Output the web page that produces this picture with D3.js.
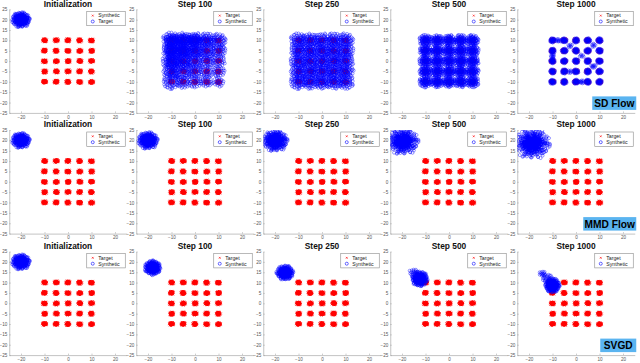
<!DOCTYPE html>
<html>
<head>
<meta charset="utf-8">
<script src="https://cdn.jsdelivr.net/npm/d3@7"></script>
<style>
  body { margin: 0; background: #fff; }
  svg { display: block; }
</style>
</head>
<body>
<div id="chart"></div>
<script>
// ---- data ----
const methods = ["SD Flow", "MMD Flow", "SVGD"];
const steps = ["Initialization", "Step 100", "Step 250", "Step 500", "Step 1000"];
const xTicks = [-20, -10, 0, 10, 20];
const yTicks = [25, 20, 15, 10, 5, 0, -5, -10, -15, -20, -25];
const modeCoords = [-10, -5, 0, 5, 10];   // target is a 5x5 grid of gaussians
const targetSpread = 1.0;

// legend labels per row (first entry = red marker, second = blue marker)
const legendLabels = [
  [["Synthetic", "Target"], ["Target", "Synthetic"], ["Target", "Synthetic"], ["Target", "Synthetic"], ["Target", "Synthetic"]],
  [["Target", "Synthetic"], ["Target", "Synthetic"], ["Target", "Synthetic"], ["Target", "Synthetic"], ["Target", "Synthetic"]],
  [["Target", "Synthetic"], ["Target", "Synthetic"], ["Target", "Synthetic"], ["Target", "Synthetic"], ["Target", "Synthetic"]]
];

// fixed scatter template (unit disc) used to draw each cloud of points
const JITTER = [
  [0.12,-0.05],[-0.34,0.21],[0.45,0.38],[-0.08,-0.52],[0.71,-0.14],[-0.66,-0.29],[0.27,0.77],[-0.41,0.63],
  [0.05,0.33],[0.58,-0.61],[-0.87,0.12],[0.19,-0.88],[-0.23,-0.17],[0.92,0.24],[-0.55,-0.74],[0.36,-0.31],
  [-0.12,0.91],[0.78,0.55],[-0.94,-0.08],[0.02,-0.26],[-0.31,0.44],[0.49,0.08],[-0.72,0.51],[0.63,-0.83],
  [-0.18,-0.95],[0.84,-0.42],[-0.47,-0.06],[0.31,0.56],[-0.05,0.12],[0.15,-0.67],[-0.62,0.86],[0.97,-0.03],
  [-0.81,-0.49],[0.42,-0.12],[-0.26,-0.38],[0.08,0.64],[0.67,0.21],[-0.39,0.02],[0.24,-0.45],[-0.58,0.33],
  [0.53,0.82],[-0.15,-0.72],[0.86,0.47],[-0.73,-0.62],[0.33,0.17],[-0.02,-0.41],[0.59,-0.28],[-0.44,0.77],
  [0.11,0.42],[-0.88,0.35],[0.74,-0.66],[-0.29,-0.58],[0.38,0.94],[-0.64,-0.21],[0.21,0.03],[-0.09,0.55]
];

// synthetic point clouds per panel: [cx, cy, rx, ry, amount (multiples of the template)]
const initCloud = [[-20, 20, 3.6, 3.5, 5]];
const gridClouds = (r, amount) => modeCoords.flatMap(cy => modeCoords.map(cx => [cx, cy, r, r, amount]));

const sdClouds = [
  initCloud,
  [[-10, 10, 3.6, 3.6, 2.2], [-5, 10, 3.6, 3.6, 2.2], [0, 10, 3.4, 3.4, 2], [5, 10, 3.2, 3.2, 1.3], [10, 10, 3, 3, 1],
   [-10, 5, 3.6, 3.6, 2.2], [-5, 5, 3.6, 3.6, 2], [0, 5, 3.3, 3.3, 1.5], [5, 5, 3, 3, 1], [10, 5, 2.8, 2.8, 0.8],
   [-10, 0, 3.6, 3.6, 2], [-5, 0, 3.4, 3.4, 1.5], [0, 0, 3, 3, 1], [5, 0, 2.8, 2.8, 0.7], [10, 0, 2.6, 2.6, 0.6],
   [-10, -5, 3.4, 3.4, 1.4], [-5, -5, 3.2, 3.2, 1], [0, -5, 2.8, 2.8, 0.8], [5, -5, 2.6, 2.6, 0.6], [10, -5, 2.4, 2.4, 0.5],
   [-10, -10, 3.2, 3.2, 1], [-5, -10, 2.8, 2.8, 0.7], [0, -10, 2.6, 2.6, 0.6], [5, -10, 2.4, 2.4, 0.5], [10, -10, 2.2, 2.2, 0.4]],
  gridClouds(3.2, 1.2),
  gridClouds(2.5, 1.4),
  gridClouds(1.0, 0.55).concat([[-7.5, 10, 1.2, 0.8, 0.2], [2.5, -10, 1.2, 0.8, 0.2], [-10, 2.5, 0.8, 1.2, 0.2],
                                [7.5, -2.5, 1.2, 0.8, 0.2], [-2.5, 7.5, 1, 1, 0.15], [7.5, 7.5, 1, 1, 0.15],
                                [-2.5, -5, 1, 1, 0.15], [2.5, 2.5, 1, 1, 0.12]])
];

const mmdClouds = [
  initCloud,
  [[-20, 20, 4, 3.9, 6]],
  [[-19.8, 19.8, 5, 4.8, 8]],
  [[-19.5, 19.5, 6.3, 6, 11]],
  [[-18.5, 18.5, 7.2, 7, 12]]
];

const svgdClouds = [
  initCloud,
  [[-18, 17.2, 3.2, 3.3, 5]],
  [[-15.7, 14.8, 3.4, 3.3, 5]],
  [[-12.4, 11.8, 3.2, 3.4, 5], [-15, 15, 1.8, 1.4, 0.3]],
  [[-10, 8.6, 2.9, 3.3, 5], [-12.2, 11.8, 2, 2, 0.5], [-14.2, 14.2, 1.4, 1.2, 0.25]]
];

const allClouds = [sdClouds, mmdClouds, svgdClouds];

// ---- layout ----
const width = 640, height = 363;
const colLeft = 9.25, colStep = 127, plotW = 117.5;
const rowTops = [9.3, 130.0, 251.5], plotH = 103.6;
const badgeWidths = [44, 53, 36];
const layerScale = [1, 0.7, 0.86, 0.5, 0.94, 0.6, 0.35, 0.78, 0.22, 0.45, 0.1, 0.66];

const svg = d3.select("#chart")
  .append("svg")
  .attr("width", width)
  .attr("height", height)
  .style("font-family", "'Liberation Sans', Arial, Helvetica, sans-serif");

function cloudPoints(cloud) {
  const [cx, cy, rx, ry, amount] = cloud;
  const n = Math.round(amount * JITTER.length);
  const pts = [];
  for (let i = 0; i < n; i++) {
    const k = Math.floor(i / JITTER.length);
    const [u, v] = JITTER[i % JITTER.length];
    const s = layerScale[k % layerScale.length] * (1 + (i % 7) * 0.025);
    const a = k * 2.1 + cx * 0.37 + cy * 0.53;
    const ca = Math.cos(a), sa = Math.sin(a);
    const ru = u * ca - v * sa, rv = u * sa + v * ca;
    pts.push([cx + ru * rx * s, cy + rv * ry * s]);
  }
  return pts;
}

const targetPoints = [];
modeCoords.forEach((cy, i) => modeCoords.forEach((cx, j) => {
  const a = (i * 5 + j) * 0.9;
  const ca = Math.cos(a), sa = Math.sin(a);
  JITTER.forEach(([u, v], m) => {
    const s = m % 3 === 2 ? 0.5 : 1;
    targetPoints.push([cx + (u * ca - v * sa) * targetSpread * s, cy + (u * sa + v * ca) * targetSpread * s]);
  });
}));

const crossPath = "M-1,-1L1,1M-1,1L1,-1";

allClouds.forEach((rowClouds, r) => {
  rowClouds.forEach((clouds, c) => {
    const x0 = colLeft + c * colStep, y0 = rowTops[r];
    const x = d3.scaleLinear().domain([-25, 25]).range([x0, x0 + plotW]);
    const y = d3.scaleLinear().domain([-25, 25]).range([y0 + plotH, y0]);
    const g = svg.append("g");
    const clipId = `clip-${r}-${c}`;

    g.append("clipPath").attr("id", clipId)
      .append("rect")
      .attr("x", x0).attr("y", y0).attr("width", plotW).attr("height", plotH);

    // axes
    g.append("g")
      .attr("transform", `translate(${x0},0)`)
      .call(d3.axisLeft(y).tickValues(yTicks).tickSizeInner(-1.5).tickSizeOuter(0).tickPadding(2))
      .call(ax => {
        ax.select(".domain").attr("stroke", "#9a9a9a").attr("stroke-width", 0.6);
        ax.selectAll(".tick line").attr("stroke", "#9a9a9a").attr("stroke-width", 0.5);
        ax.selectAll("text").attr("font-size", 4.6).attr("fill", "#555");
      });

    g.append("g")
      .attr("transform", `translate(0,${y0 + plotH})`)
      .call(d3.axisBottom(x).tickValues(xTicks).tickSizeInner(-1.5).tickSizeOuter(0).tickPadding(2.5))
      .call(ax => {
        ax.select(".domain").attr("stroke", "#9a9a9a").attr("stroke-width", 0.6);
        ax.selectAll(".tick line").attr("stroke", "#9a9a9a").attr("stroke-width", 0.5);
        ax.selectAll("text").attr("font-size", 4.6).attr("fill", "#555");
      });

    const plot = g.append("g").attr("clip-path", `url(#${clipId})`);

    plot.append("g")
      .selectAll("path")
      .data(targetPoints)
      .join("path")
      .attr("d", crossPath)
      .attr("transform", d => `translate(${x(d[0])},${y(d[1])})`)
      .attr("stroke", "#ff0000")
      .attr("stroke-width", 0.75)
      .attr("fill", "none");

    const synth = clouds.flatMap(cloudPoints);
    plot.append("g")
      .selectAll("circle")
      .data(synth)
      .join("circle")
      .attr("cx", d => x(d[0]))
      .attr("cy", d => y(d[1]))
      .attr("r", 1.5)
      .attr("fill", "none")
      .attr("stroke", "#0000ff")
      .attr("stroke-width", 0.55)
      .attr("stroke-opacity", 0.75);

    // title
    g.append("text")
      .attr("x", x0 + plotW / 2)
      .attr("y", y0 - 2.6)
      .attr("text-anchor", "middle")
      .attr("font-size", 8.4)
      .attr("font-weight", "bold")
      .attr("fill", "#111")
      .text(steps[c]);

    // legend
    const lw = 38.5, lh = 14.4;
    const lx = x0 + plotW - lw - 1.5, ly = y0 + 2;
    const leg = g.append("g");
    leg.append("rect")
      .attr("x", lx).attr("y", ly).attr("width", lw).attr("height", lh)
      .attr("fill", "#fff").attr("stroke", "#8a8a8a").attr("stroke-width", 0.6);
    const labels = legendLabels[r][c];
    leg.append("path")
      .attr("d", crossPath)
      .attr("transform", `translate(${lx + 6},${ly + 4.3}) scale(0.9)`)
      .attr("stroke", "#ff0000").attr("stroke-width", 0.7).attr("fill", "none");
    leg.append("circle")
      .attr("cx", lx + 6).attr("cy", ly + 10.2).attr("r", 1.5)
      .attr("fill", "none").attr("stroke", "#0000ff").attr("stroke-width", 0.6);
    labels.forEach((t, i) => {
      leg.append("text")
        .attr("x", lx + 11.5)
        .attr("y", ly + 4.3 + i * 5.9)
        .attr("dy", "0.35em")
        .attr("font-size", 5.2)
        .attr("fill", "#222")
        .text(t);
    });

    // method badge on last column
    if (c === steps.length - 1) {
      const bw = badgeWidths[r], bh = 13.5;
      const bx = x0 + plotW + 1.5 - bw, by = y0 + plotH - bh - 3;
      g.append("rect")
        .attr("x", bx).attr("y", by).attr("width", bw).attr("height", bh)
        .attr("fill", "#5ab4f0");
      g.append("text")
        .attr("x", bx + bw / 2)
        .attr("y", by + bh / 2)
        .attr("dy", "0.36em")
        .attr("text-anchor", "middle")
        .attr("font-size", 10.2)
        .attr("font-weight", "bold")
        .attr("fill", "#000")
        .text(methods[r]);
    }
  });
});
</script>
</body>
</html>
